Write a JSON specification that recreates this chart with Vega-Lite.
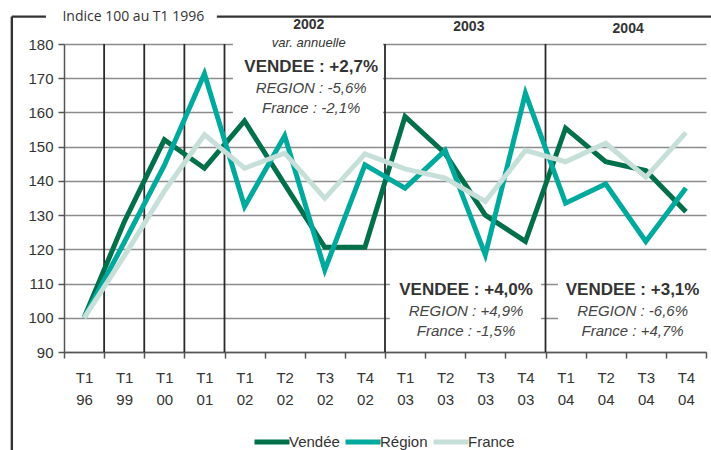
{
  "$schema": "https://vega.github.io/schema/vega-lite/v6.json",
  "width": 642,
  "height": 308,
  "autosize": "none",
  "padding": {"left": 64, "top": 44, "right": 5, "bottom": 98},
  "background": "white",
  "datasets": {
    "indices": [
      {"periode": "T1 96", "serie": "Vendée", "indice": 100},
      {"periode": "T1 99", "serie": "Vendée", "indice": 128},
      {"periode": "T1 00", "serie": "Vendée", "indice": 152},
      {"periode": "T1 01", "serie": "Vendée", "indice": 143.7},
      {"periode": "T1 02", "serie": "Vendée", "indice": 157.5},
      {"periode": "T2 02", "serie": "Vendée", "indice": 139},
      {"periode": "T3 02", "serie": "Vendée", "indice": 120.6},
      {"periode": "T4 02", "serie": "Vendée", "indice": 120.6},
      {"periode": "T1 03", "serie": "Vendée", "indice": 158.8},
      {"periode": "T2 03", "serie": "Vendée", "indice": 148},
      {"periode": "T3 03", "serie": "Vendée", "indice": 130},
      {"periode": "T4 03", "serie": "Vendée", "indice": 122.3},
      {"periode": "T1 04", "serie": "Vendée", "indice": 155.4},
      {"periode": "T2 04", "serie": "Vendée", "indice": 145.6},
      {"periode": "T3 04", "serie": "Vendée", "indice": 143},
      {"periode": "T4 04", "serie": "Vendée", "indice": 131},
      {"periode": "T1 96", "serie": "Région", "indice": 100},
      {"periode": "T1 99", "serie": "Région", "indice": 122},
      {"periode": "T1 00", "serie": "Région", "indice": 144.5},
      {"periode": "T1 01", "serie": "Région", "indice": 171.3},
      {"periode": "T1 02", "serie": "Région", "indice": 132.5},
      {"periode": "T2 02", "serie": "Région", "indice": 153.2},
      {"periode": "T3 02", "serie": "Région", "indice": 114},
      {"periode": "T4 02", "serie": "Région", "indice": 144.7},
      {"periode": "T1 03", "serie": "Région", "indice": 137.9},
      {"periode": "T2 03", "serie": "Région", "indice": 148.9},
      {"periode": "T3 03", "serie": "Région", "indice": 118.4},
      {"periode": "T4 03", "serie": "Région", "indice": 165.6},
      {"periode": "T1 04", "serie": "Région", "indice": 133.5},
      {"periode": "T2 04", "serie": "Région", "indice": 139.1},
      {"periode": "T3 04", "serie": "Région", "indice": 122.3},
      {"periode": "T4 04", "serie": "Région", "indice": 137.9},
      {"periode": "T1 96", "serie": "France", "indice": 100},
      {"periode": "T1 99", "serie": "France", "indice": 118},
      {"periode": "T1 00", "serie": "France", "indice": 137},
      {"periode": "T1 01", "serie": "France", "indice": 153.5},
      {"periode": "T1 02", "serie": "France", "indice": 143.7},
      {"periode": "T2 02", "serie": "France", "indice": 148.1},
      {"periode": "T3 02", "serie": "France", "indice": 134.9},
      {"periode": "T4 02", "serie": "France", "indice": 147.9},
      {"periode": "T1 03", "serie": "France", "indice": 143.5},
      {"periode": "T2 03", "serie": "France", "indice": 140.8},
      {"periode": "T3 03", "serie": "France", "indice": 134},
      {"periode": "T4 03", "serie": "France", "indice": 148.9},
      {"periode": "T1 04", "serie": "France", "indice": 145.6},
      {"periode": "T2 04", "serie": "France", "indice": 151},
      {"periode": "T3 04", "serie": "France", "indice": 141.1},
      {"periode": "T4 04", "serie": "France", "indice": 154.1}
    ],
    "blocs": [
      {"annee": "2002", "sous_titre": "var. annuelle", "xa": 6.1, "ya": 185.6, "xt": 6.16, "yt": 173.3, "vendee": "VENDEE : +2,7%", "region": "REGION : -5,6%", "france": "France : -2,1%", "bx1": 4.21, "bx2": 7.95, "by1": 188.5, "by2": 158.7},
      {"annee": "2003", "sous_titre": "", "xa": 10.09, "ya": 185.1, "xt": 10.02, "yt": 108, "vendee": "VENDEE : +4,0%", "region": "REGION : +4,9%", "france": "France : -1,5%", "bx1": 8.12, "bx2": 11.89, "by1": 115.4, "by2": 92},
      {"annee": "2004", "sous_titre": "", "xa": 14.06, "ya": 184.35, "xt": 14.17, "yt": 108.1, "vendee": "VENDEE : +3,1%", "region": "REGION : -6,6%", "france": "France : +4,7%", "bx1": 12.31, "bx2": 16.1, "by1": 115.4, "by2": 92}
    ],
    "separateurs": [
      {"x": 1}, {"x": 2}, {"x": 3}, {"x": 4}, {"x": 8}, {"x": 12}
    ],
    "cadre": [
      {"x1": -1.3, "x2": -1.3, "y1": 188, "y2": 61},
      {"x1": -1.3, "x2": -0.45, "y1": 188, "y2": 188},
      {"x1": 3.81, "x2": 16.2, "y1": 188, "y2": 188}
    ],
    "titre": [
      {"texte": "Indice 100 au T1 1996", "x": -0.04, "y": 187.8}
    ]
  },
  "config": {
    "view": {"stroke": null},
    "axisY": {
      "domain": true, "domainColor": "#555555", "domainWidth": 1.5,
      "grid": true, "gridColor": "#8c8c8c", "gridWidth": 1.5,
      "ticks": true, "tickColor": "#555555", "tickSize": 6, "tickWidth": 1.5,
      "labelFont": "Liberation Sans", "labelFontSize": 15, "labelColor": "#333333", "labelPadding": 5,
      "tickCount": 9
    },
    "axisX": {
      "domain": true, "domainColor": "#555555", "domainWidth": 1.5,
      "grid": false,
      "ticks": true, "tickColor": "#555555", "tickSize": 6, "tickWidth": 1.5,
      "labelFont": "Liberation Sans", "labelFontSize": 15, "labelColor": "#333333"
    },
    "text": {"font": "Liberation Sans", "color": "#333333"}
  },
  "resolve": {"scale": {"x": "independent"}},
  "layer": [
    {
      "layer": [
        {
          "data": {"name": "blocs"},
          "mark": {"type": "rect", "fill": "white"},
          "encoding": {
            "x": {"field": "bx1", "type": "quantitative", "scale": {"domain": [0, 16], "nice": false, "zero": false}, "axis": null},
            "x2": {"field": "bx2"},
            "y": {"field": "by1", "type": "quantitative", "title": null},
            "y2": {"field": "by2"}
          }
        },
        {
          "data": {"name": "separateurs"},
          "mark": {"type": "rule", "color": "#2a2a2a", "strokeWidth": 1.8},
          "encoding": {
            "x": {"field": "x", "type": "quantitative", "axis": null}
          }
        },
        {
          "data": {"name": "cadre"},
          "mark": {"type": "rule", "color": "#333333", "strokeWidth": 2.4},
          "encoding": {
            "x": {"field": "x1", "type": "quantitative", "axis": null},
            "x2": {"field": "x2"},
            "y": {"field": "y1", "type": "quantitative", "title": null},
            "y2": {"field": "y2"}
          }
        },
        {
          "data": {"name": "titre"},
          "mark": {"type": "text", "font": "Open Sans", "fontSize": 14, "align": "left", "baseline": "middle", "color": "#333333"},
          "encoding": {
            "x": {"field": "x", "type": "quantitative", "axis": null},
            "y": {"field": "y", "type": "quantitative", "title": null},
            "text": {"field": "texte"}
          }
        }
      ]
    },
    {
      "data": {"name": "indices"},
      "mark": {"type": "line", "strokeWidth": 5},
      "encoding": {
        "x": {
          "field": "periode", "type": "ordinal", "bandPosition": 0.5,
          "sort": ["T1 96","T1 99","T1 00","T1 01","T1 02","T2 02","T3 02","T4 02","T1 03","T2 03","T3 03","T4 03","T1 04","T2 04","T3 04","T4 04"],
          "scale": {"type": "band", "paddingInner": 0, "paddingOuter": 0},
          "axis": {"title": null, "labelAngle": 0, "tickBand": "extent", "labelExpr": "split(datum.label, ' ')", "labelLineHeight": 22, "labelPadding": 12, "labelBaseline": "top"}
        },
        "y": {
          "field": "indice", "type": "quantitative",
          "scale": {"domain": [90, 180], "nice": false, "zero": false},
          "title": null
        },
        "color": {
          "field": "serie", "type": "nominal",
          "scale": {"domain": ["Vendée", "Région", "France"], "range": ["#00704A", "#00A99D", "#C6DFD9"]},
          "legend": {
            "title": null, "orient": "none", "legendX": 188, "legendY": 378, "direction": "horizontal",
            "symbolType": "stroke", "symbolSize": 1225, "symbolStrokeWidth": 5,
            "labelFont": "Liberation Sans", "labelFontSize": 15, "labelColor": "#333333",
            "labelOffset": -3, "columnPadding": -5
          }
        }
      }
    },
    {
      "data": {"name": "blocs"},
      "encoding": {
        "x": {"field": "xt", "type": "quantitative", "scale": {"domain": [0, 16], "nice": false, "zero": false}, "axis": null},
        "y": {"field": "yt", "type": "quantitative", "title": null}
      },
      "layer": [
        {
          "mark": {"type": "text", "fontWeight": "bold", "fontSize": 14, "baseline": "middle"},
          "encoding": {
            "x": {"field": "xa", "type": "quantitative", "axis": null},
            "y": {"field": "ya", "type": "quantitative", "title": null},
            "text": {"field": "annee"}
          }
        },
        {
          "mark": {"type": "text", "fontStyle": "italic", "fontSize": 13, "baseline": "middle", "dy": 18},
          "encoding": {
            "x": {"field": "xa", "type": "quantitative", "axis": null},
            "y": {"field": "ya", "type": "quantitative", "title": null},
            "text": {"field": "sous_titre"}
          }
        },
        {
          "mark": {"type": "text", "fontWeight": "bold", "fontSize": 17, "baseline": "middle"},
          "encoding": {"text": {"field": "vendee"}}
        },
        {
          "mark": {"type": "text", "fontStyle": "italic", "fontSize": 15, "baseline": "middle", "dy": 21, "color": "#444444"},
          "encoding": {"text": {"field": "region"}}
        },
        {
          "mark": {"type": "text", "fontStyle": "italic", "fontSize": 15, "baseline": "middle", "dy": 41, "color": "#444444"},
          "encoding": {"text": {"field": "france"}}
        }
      ]
    }
  ]
}
